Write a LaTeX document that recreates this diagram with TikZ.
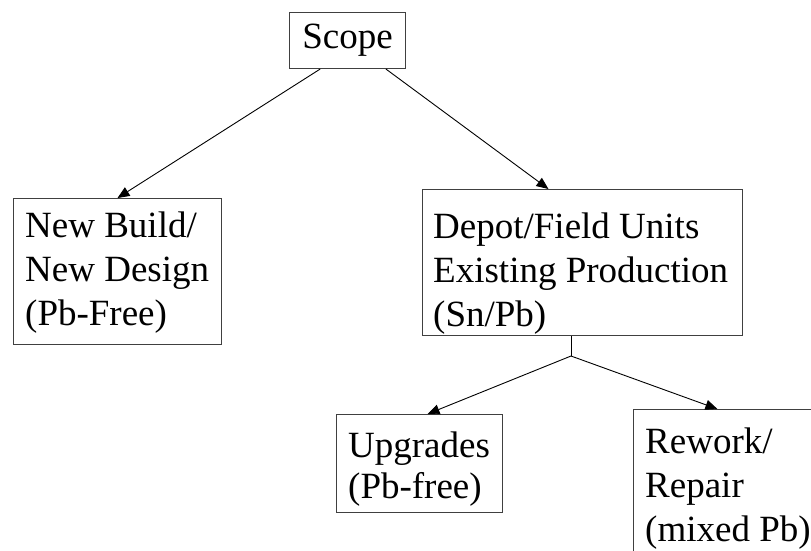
\documentclass[tikz,border=0pt]{standalone}
\usepackage{fontspec}
\setmainfont{Liberation Serif}
\usetikzlibrary{arrows.meta,calc}
\begin{document}
\begin{tikzpicture}[x=1pt,y=-1pt,
  box/.style={draw=black!75, line width=1pt, rectangle, inner sep=0pt, anchor=north west},
  lbl/.style={inner sep=0pt, align=left, font=\fontsize{37}{44}\selectfont, anchor=north west},
  link/.style={line width=0.9pt, -{Triangle[length=12pt,width=10pt]}},
]
\useasboundingbox (0,0) rectangle (811,550);
\clip (0,0) rectangle (811,550);

% boxes
\node[box, minimum width=116pt, minimum height=56pt, font=\fontsize{37}{44}\selectfont] (scope) at (289,12) {Scope};
\node[box, minimum width=208pt, minimum height=146pt] (newbuild) at (13,198) {};
\node[box, minimum width=320pt, minimum height=146pt] (depot) at (422,189) {};
\node[box, minimum width=166pt, minimum height=98pt] (upgrades) at (336,414) {};
\node[box, minimum width=200pt, minimum height=160pt] (rework) at (633,409) {};

% box texts (first baseline about 25.5pt below the node top)
\node[lbl] (newbuild-text) at (25,211.5) {New Build/\\New Design\\(Pb-Free)};
\node[lbl] (depot-text) at (433,212.5) {Depot/Field Units\\Existing Production\\(Sn/Pb)};
\node[lbl, font=\fontsize{37}{41}\selectfont] (upgrades-text) at (348,431.5) {Upgrades\\(Pb-free)};
\node[lbl] (rework-text) at (645,427.5) {Rework/\\Repair\\(mixed Pb)};

% connectors
\draw[link] ($(scope.south west)!0.267!(scope.south east)$) -- ($(newbuild.north west)!0.5!(newbuild.north east)$);
\draw[link] ($(scope.south west)!0.828!(scope.south east)$) -- ($(depot.north west)!0.394!(depot.north east)$);

\coordinate (fork) at (571,356);
\draw[line width=0.9pt] (depot.south -| fork) -- (fork);
\draw[link] (fork) -- ($(upgrades.north west)!0.548!(upgrades.north east)$);
\draw[link] (fork) -- ($(rework.north west)!0.42!(rework.north east)$);
\end{tikzpicture}
\end{document}
